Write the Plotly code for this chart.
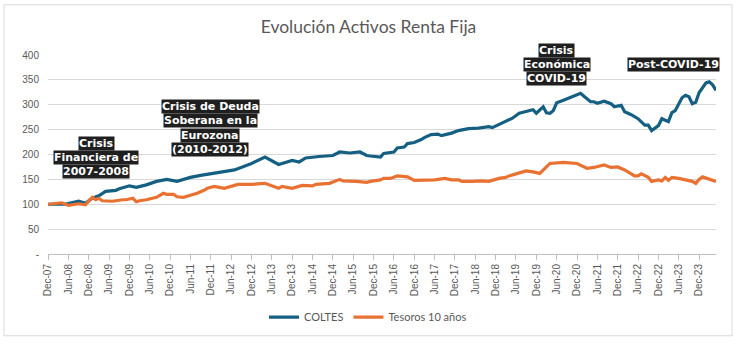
import plotly.graph_objects as go

# ---- data ----
coltes_dates = ["2007-12","2008-05","2008-09","2008-11","2009-01","2009-03","2009-05","2009-08","2009-09","2009-12",
                "2010-02","2010-05","2010-08","2010-11","2011-02","2011-06","2011-09","2012-01","2012-07","2012-12",
                "2013-04","2013-08","2013-12","2014-02","2014-04","2014-08","2014-12","2015-02","2015-05","2015-08",
                "2015-10","2015-11","2016-02","2016-03","2016-06","2016-07","2016-09","2016-10","2016-12","2017-02",
                "2017-03","2017-05","2017-07","2017-08","2017-11","2018-01","2018-04","2018-07","2018-10","2018-11",
                "2019-01","2019-03","2019-05","2019-07","2019-09","2019-11","2019-12","2020-02","2020-03","2020-04",
                "2020-05","2020-06","2020-08","2020-09","2020-10","2020-11","2021-01","2021-02","2021-04","2021-05",
                "2021-06","2021-08","2021-10","2021-11","2022-01","2022-02","2022-04","2022-06","2022-07","2022-08",
                "2022-09","2022-10","2022-12","2023-01","2023-03","2023-04","2023-05","2023-07","2023-08","2023-09",
                "2023-10","2023-11","2023-12","2024-02","2024-03","2024-04","2024-05"]
coltes_vals = [100,100,106,102,112,117,126,128,131,137,
               134,139,146,150,146,154,158,162,169,182,
               195,180,188,185,193,196,198,205,203,205,
               198,197,195,202,205,213,215,222,224,230,
               234,240,241,238,243,248,252,253,256,254,
               261,267,273,283,286,290,283,296,284,283,
               288,304,309,312,315,317,323,317,306,306,
               303,307,302,296,299,286,280,272,266,259,
               259,248,258,272,266,284,288,314,319,316,
               302,305,324,344,346,340,329]

tesoros_dates = ["2007-12","2008-04","2008-06","2008-09","2008-11","2009-01","2009-02","2009-03","2009-04","2009-07",
                 "2009-10","2009-11","2010-01","2010-02","2010-03","2010-05","2010-08","2010-10","2010-11","2011-01",
                 "2011-02","2011-04","2011-06","2011-08","2011-10","2011-11","2012-01","2012-04","2012-08","2012-12",
                 "2013-04","2013-08","2013-09","2013-12","2014-03","2014-06","2014-07","2014-11","2015-02","2015-03",
                 "2015-07","2015-10","2015-11","2016-02","2016-03","2016-05","2016-07","2016-09","2016-10","2016-12",
                 "2017-03","2017-06","2017-09","2017-11","2018-01","2018-02","2018-05","2018-08","2018-10","2019-01",
                 "2019-03","2019-04","2019-06","2019-09","2019-11","2020-01","2020-03","2020-04","2020-08","2020-11",
                 "2020-12","2021-03","2021-05","2021-08","2021-10","2021-12","2022-02","2022-05","2022-06","2022-07",
                 "2022-09","2022-10","2022-12","2023-01","2023-02","2023-03","2023-04","2023-06","2023-08","2023-10",
                 "2023-11","2023-12","2024-01","2024-03","2024-05"]
tesoros_vals = [100,103,98,101,99,114,109,112,107,106,
                109,109,112,105,107,109,114,122,120,120,
                115,114,118,122,128,132,136,132,140,140,
                142,132,136,132,138,137,140,142,150,147,
                146,144,146,149,152,152,157,155,155,148,
                148,149,152,149,149,146,146,147,146,152,
                154,157,161,167,165,162,175,182,184,182,
                182,172,174,179,174,175,169,157,157,161,
                154,146,149,147,154,148,154,152,149,146,
                142,150,155,151,146]

series_names = ["COLTES", "Tesoros 10 años"]
series_colors = ["#156082", "#E97132"]

y_tickvals = [0, 50, 100, 150, 200, 250, 300, 350, 400]
y_ticktext = ["-", "50", "100", "150", "200", "250", "300", "350", "400"]

# annotations: (x date, centre level on the value scale, lines of text)
ann_groups = [
    ("2009-02-05", 194, ["Crisis", "Financiera de", "2007-2008"]),
    ("2011-11-25", 253, ["Crisis de Deuda", "Soberana en la", "Eurozona", "(2010-2012)"]),
    ("2020-06-01", 381, ["Crisis", "Económica", "COVID-19"]),
    ("2023-04-12", 381, ["Post-COVID-19"]),
]
line_step = 29
y_max = 400

fig = go.Figure()
for name, xs, ys, col in [(series_names[0], coltes_dates, coltes_vals, series_colors[0]),
                          (series_names[1], tesoros_dates, tesoros_vals, series_colors[1])]:
    fig.add_trace(go.Scatter(x=[d + "-01" for d in xs], y=ys, mode="lines", name=name,
                             line=dict(color=col, width=3.2)))

for x, yc, lines in ann_groups:
    n = len(lines)
    for i, t in enumerate(lines):
        y = yc + ((n - 1) / 2 - i) * line_step
        fig.add_annotation(x=x, y=y / y_max, xref="x", yref="paper", text="<b>" + t + "</b>", showarrow=False,
                           font=dict(family="DejaVu Sans", size=11, color="white"),
                           bgcolor="#1f1f1f", borderpad=0, yanchor="middle", xanchor="center")

W, H = 737, 344
L, R, T, B = 48, 21, 55, 87
pw, ph = W - L - R, H - T - B
fig.add_shape(type="rect", xref="paper", yref="paper",
              x0=(4 - L) / pw, x1=(732 - L) / pw, y0=-(340 - T - ph) / ph, y1=1 + (T - 4) / ph,
              line=dict(color="#d9d9d9", width=1), fillcolor="rgba(0,0,0,0)", layer="below")

fig.update_layout(
    width=W, height=H,
    margin=dict(l=L, r=R, t=T, b=B),
    paper_bgcolor="white", plot_bgcolor="white",
    title=dict(text="Evolución Activos Renta Fija", x=0.5, xanchor="center",
               y=1 - 27 / H, yanchor="middle",
               font=dict(family="Lato", size=17.5, color="#595959")),
    showlegend=True,
    legend=dict(orientation="h", x=(368 - L) / pw, xanchor="center", y=-(321 - T - ph) / ph, yanchor="middle",
                font=dict(family="Lato", size=11, color="#595959"), itemwidth=30),
    xaxis=dict(type="date", range=["2007-12-01", "2024-05-01"], tick0="2007-12-01", dtick="M6",
               tickformat="%b-%y", tickangle=-90, showgrid=False, ticks="outside", ticklen=5,
               tickcolor="#bfbfbf", showline=True, linecolor="#bfbfbf", linewidth=1,
               tickfont=dict(family="Liberation Sans", size=10, color="#595959")),
    yaxis=dict(range=[0, y_max], tickvals=y_tickvals, ticktext=y_ticktext, showgrid=True,
               gridcolor="#d9d9d9", gridwidth=1, zeroline=False, showline=False,
               ticklabelstandoff=8,
               tickfont=dict(family="Liberation Sans", size=10, color="#595959")),
)

fig.write_html("out.html")
